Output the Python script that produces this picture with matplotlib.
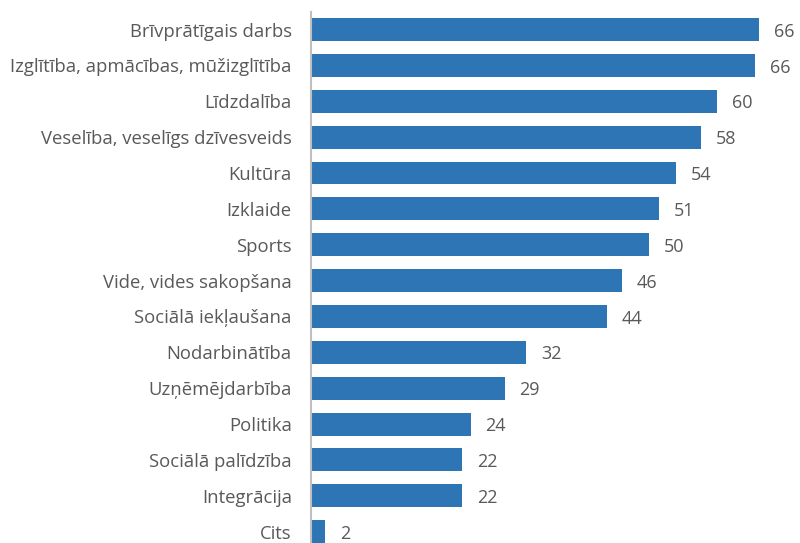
import matplotlib
matplotlib.use("Agg")
import matplotlib.pyplot as plt

# ----------------------------------------------------------------
# Data
# ----------------------------------------------------------------
categories = [
    "Brīvprātīgais darbs",
    "Izglītība, apmācības, mūžizglītība",
    "Līdzdalība",
    "Veselība, veselīgs dzīvesveids",
    "Kultūra",
    "Izklaide",
    "Sports",
    "Vide, vides sakopšana",
    "Sociālā iekļaušana",
    "Nodarbinātība",
    "Uzņēmējdarbība",
    "Politika",
    "Sociālā palīdzība",
    "Integrācija",
    "Cits",
]
values = [66.3, 65.6, 60.1, 57.6, 53.9, 51.4, 50.0, 46.0, 43.7,
          31.8, 28.6, 23.6, 22.3, 22.3, 2.1]

BAR_COLOR = "#2E75B6"
TEXT_COLOR = "#595959"
XMAX = 70

plt.rcParams["font.family"] = ["Open Sans", "DejaVu Sans"]

fig = plt.figure(figsize=(8.0, 5.43), dpi=100)
ax = fig.add_axes([0.389, -0.0114, 0.5915, 0.9893])

ypos = list(range(len(categories)))
ax.barh(ypos, values, height=0.64, color=BAR_COLOR)

for y, v in zip(ypos, values):
    ax.text(v + 2.2, y + 0.06, f"{v:.0f}", va="center", ha="left",
            fontsize=13, color=TEXT_COLOR)

ax.set_yticks(ypos)
ax.set_yticklabels(categories, fontsize=13.3, color=TEXT_COLOR)
ax.tick_params(axis="y", length=0, pad=14)
ax.set_xticks([])
ax.set_xlim(0, XMAX)
ax.set_ylim(len(categories) - 0.51, -0.49)

for side in ("top", "right", "bottom"):
    ax.spines[side].set_visible(False)
ax.spines["left"].set_color("#BFBFBF")
ax.spines["left"].set_linewidth(1.5)

fig.savefig("out.png", dpi=100)
